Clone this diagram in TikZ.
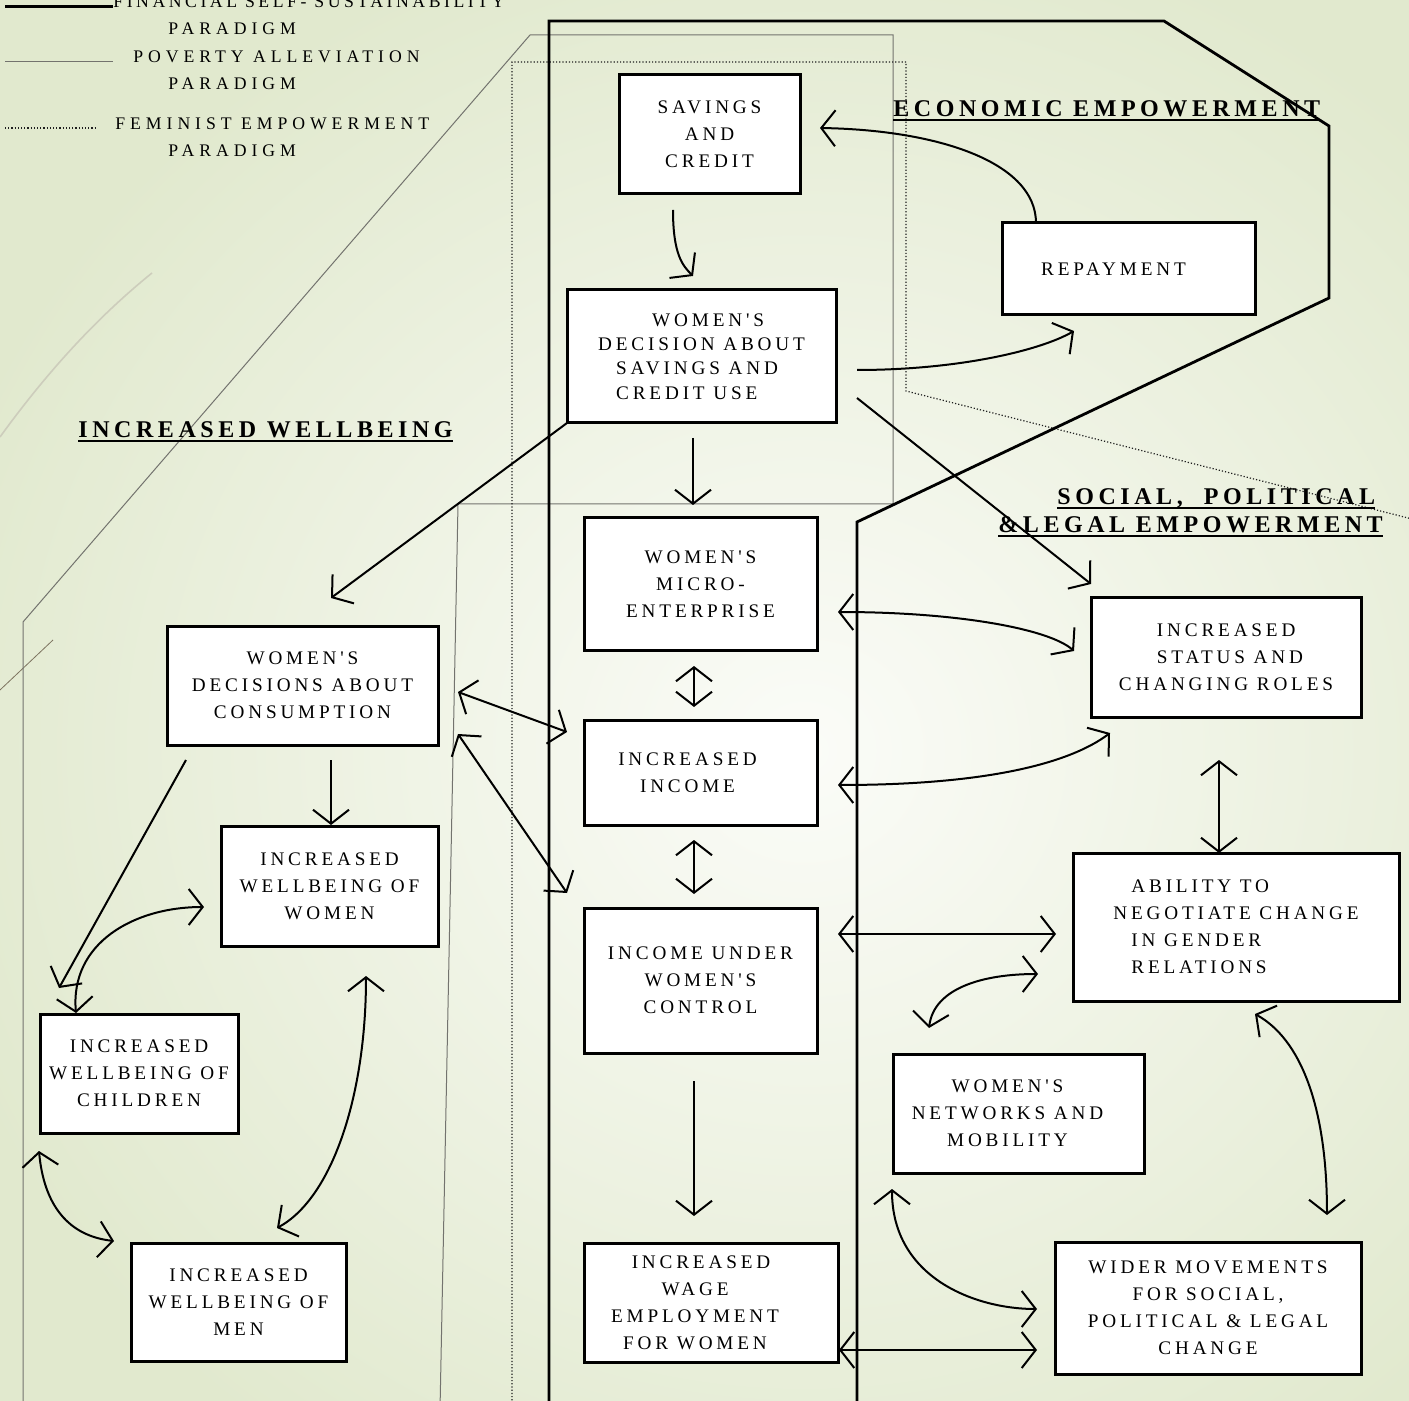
\documentclass[tikz,border=0pt]{standalone}
\usepackage{fontspec}
\setmainfont{Liberation Serif}[Ligatures=TeXOff, LetterSpace=20]
\newfontfamily\legfont{Liberation Serif}[Ligatures=TeXOff, LetterSpace=28]
\newfontfamily\legfontB{Liberation Serif}[Ligatures=TeXOff, LetterSpace=20]
\newfontfamily\hdrfont{Liberation Serif}[Ligatures=TeXOff, LetterSpace=19]
\usetikzlibrary{arrows.meta,calc}
\definecolor{bgout}{RGB}{225,233,206}
\definecolor{bgin}{RGB}{251,252,248}
\definecolor{thinA}{RGB}{115,115,110}
\definecolor{dotB}{RGB}{30,30,30}
\definecolor{decoA}{RGB}{205,205,188}
\definecolor{decoB}{RGB}{125,115,95}
\begin{document}
\begin{tikzpicture}[x=0.5pt,y=-0.5pt,
  box/.style={draw, line width=1.5pt, fill=white, inner sep=0pt, outer sep=0pt, align=center,
    font=\fontsize{9.6}{13.5}\selectfont},
  hdr/.style={inner sep=0pt, anchor=base west, font=\hdrfont\fontsize{12}{14}\selectfont\bfseries},
  leg/.style={inner sep=0pt, anchor=base west, font=\legfont\fontsize{8.85}{13.5}\selectfont},
  conn/.style={line width=1pt, >={Straight Barb[length=7pt,width=18pt]}},
  ul/.style={line width=1pt},
]
\path[use as bounding box] (0,0) rectangle (1409,1401);
\clip (0,0) rectangle (1409,1401);
\shade[inner color=bgin, outer color=bgout] (-100,-100) rectangle (1709,1601);

% decorative background strokes
\draw[decoA, line width=0.8pt] (0,437) .. controls (50,368) and (100,315) .. (152,273);
\draw[decoB, line width=0.4pt] (53,640) -- (0,690);

% paradigm regions
\draw[thinA, line width=0.5pt] (440,1410) -- (458,504) -- (893,504) -- (893,35) -- (530,35) -- (23,622) -- (23,1410);
\draw[dotB, line width=0.6pt, densely dotted] (512,1410) -- (512,62) -- (906,62) -- (906,391) -- (1420,521);
\draw[line width=1.4pt] (549,1410) -- (549,21) -- (1164,21) -- (1329,126) -- (1329,298) -- (857,522) -- (857,1410);

% legend
\node[leg, font=\legfontB\fontsize{8.85}{13.5}\selectfont] (l1) at (113,8) {FINANCIAL SELF- SUSTAINABILITY};
\draw[line width=1.5pt] (5,7) -- (113,7);
\node[leg] (l1b) at (168,35) {PARADIGM};
\draw[thinA, line width=0.5pt] (5,62) -- (113,62);
\node[leg] (l2) at (133,63) {POVERTY ALLEVIATION};
\node[leg] (l2b) at (168,90) {PARADIGM};
\draw[dotB, densely dotted, line width=0.6pt] (5,128) -- (95,128);
\node[leg] (l3) at (115,130) {FEMINIST EMPOWERMENT};
\node[leg] (l3b) at (168,157) {PARADIGM};

% headings
\node[hdr] (econ) at (893,117) {ECONOMIC EMPOWERMENT};
\draw[ul] ($(econ.base west)+(0,3)$) -- ($(econ.base east)+(0,3)$);
\node[hdr] (wellb) at (78,438) {INCREASED WELLBEING};
\draw[ul] ($(wellb.base west)+(0,3)$) -- ($(wellb.base east)+(0,3)$);
\node[hdr] (soc1) at (1057,505) {SOCIAL,~ POLITICAL};
\draw[ul] ($(soc1.base west)+(0,3)$) -- ($(soc1.base east)+(0,3)$);
\node[hdr] (soc2) at (998,533) {\&LEGAL EMPOWERMENT};
\draw[ul] ($(soc2.base west)+(0,3)$) -- ($(soc2.base east)+(0,3)$);

% boxes
\node[box, minimum width=90.5pt, minimum height=59.5pt] (sav) at (709.5,134.5) {SAVINGS\\AND\\CREDIT};
\node[box, minimum width=134.5pt, minimum height=66.5pt, align=left, font=\fontsize{9.6}{12.2}\selectfont] (dec) at (701.5,356.5)
  {\hspace*{27pt}WOMEN'S\\DECISION ABOUT\hspace*{14pt}\\\hspace*{9pt}SAVINGS AND\\\hspace*{9pt}CREDIT USE};
\node[box, minimum width=126.5pt, minimum height=46pt] (rep) at (1128.5,269) {REPAYMENT\hspace*{15pt}};
\node[box, minimum width=116.5pt, minimum height=66pt] (micro) at (700.5,584) {WOMEN'S\\MICRO-\\ENTERPRISE};
\node[box, minimum width=116.5pt, minimum height=52.5pt] (inc) at (700.5,772.5) {\hspace*{-13pt}INCREASED\\\hspace*{-13pt}INCOME};
\node[box, minimum width=116.5pt, minimum height=72.5pt] (ctrl) at (700.5,980.5) {INCOME UNDER\\WOMEN'S\\CONTROL};
\node[box, minimum width=127pt, minimum height=59.5pt] (wage) at (711,1302.5)
  {\hspace*{-10pt}INCREASED\\\hspace*{-16pt}WAGE\\\hspace*{-16pt}EMPLOYMENT\\\hspace*{-16pt}FOR WOMEN};
\node[box, minimum width=125.5pt, minimum height=59.5pt] (net) at (1018.5,1113.5) {\hspace*{-11pt}WOMEN'S\\\hspace*{-11pt}NETWORKS AND\\\hspace*{-11pt}MOBILITY};
\node[box, minimum width=153pt, minimum height=66pt] (wider) at (1208,1308) {WIDER MOVEMENTS\\FOR SOCIAL,\\POLITICAL \& LEGAL\\CHANGE};
\node[box, minimum width=135pt, minimum height=59.5pt, align=left] (status) at (1226,657.5)
  {\hspace*{19pt}INCREASED\\\hspace*{19pt}STATUS AND\\CHANGING ROLES};
\node[box, minimum width=163pt, minimum height=74pt, align=left] (abil) at (1236,927)
  {\hspace*{9pt}ABILITY TO\\NEGOTIATE CHANGE\\\hspace*{9pt}IN GENDER\\\hspace*{9pt}RELATIONS};
\node[box, minimum width=135.5pt, minimum height=59.5pt] (cons) at (302.5,685.5) {WOMEN'S\\DECISIONS ABOUT\\CONSUMPTION};
\node[box, minimum width=108.5pt, minimum height=60pt] (women) at (329.5,886) {INCREASED\\WELLBEING OF\\WOMEN};
\node[box, minimum width=99pt, minimum height=59.5pt] (child) at (139,1073.5) {INCREASED\\WELLBEING OF\\CHILDREN};
\node[box, minimum width=107.5pt, minimum height=59pt] (men) at (238.5,1302) {INCREASED\\WELLBEING OF\\MEN};

% connectors
\draw[conn,->] ($(sav.south)+(-36.5,16)$) .. controls +(0,45) and +(-10,-10) .. ($(dec.north)+(-8.5,-14)$);
\draw[conn,->] ($(rep.north west)+(34,0)$) .. controls +(0,-60) and +(120,2) .. ($(sav.east)+(20,-6.5)$);
\draw[conn,->] ($(dec.east)+(21,13.5)$) .. controls +(100,0) and +(-35,20) .. ($(rep.south west)+(72,16)$);
\draw[conn,->] ($(dec.east)+(21,41.5)$) -- ($(status.north west)+(0,-14)$);
\draw[conn,->] ($(dec.south)+(-8.5,15)$) -- ($(micro.north)+(-7.5,-13)$);
\draw[conn,->] (dec.south west) -- ($(cons.north)+(28.5,-28)$);
\draw[conn,<->] ($(micro.east)+(21,28)$) .. controls +(120,0) and +(-25,-22) .. ($(status.west)+(-17,-6.5)$);
\draw[conn,<->] ($(inc.east)+(21,12.5)$) .. controls +(150,0) and +(-40,30) .. ($(status.south west)+(19,16)$);
\draw[conn,<->] ($(micro.south)+(-6.5,16)$) -- ($(inc.north)+(-6.5,-13)$);
\draw[conn,<->] ($(inc.south)+(-6.5,15)$) -- ($(ctrl.north)+(-6.5,-14)$);
\draw[conn,<->] ($(cons.east)+(20,6.5)$) -- ($(inc.west)+(-17,-40.5)$);
\draw[conn,<->] ($(cons.east)+(20,48.5)$) -- ($(ctrl.west)+(-17,-87.5)$);
\draw[conn,->] ($(cons.south west)+(19,15)$) -- ($(child.north west)+(19,-26)$);
\draw[conn,->] ($(cons.south)+(28.5,15)$) -- ($(women.north)+(1.5,-1)$);
\draw[conn,<->] ($(child.north west)+(36,-1)$) .. controls +(-6,-70) and +(-70,0) .. ($(women.west)+(-17,21)$);
\draw[conn,<->] ($(child.south west)+(-1,18)$) .. controls +(5,55) and +(-45,-5) .. ($(men.west)+(-17,-61)$);
\draw[conn,<->] ($(women.south)+(36.5,30)$) .. controls +(0,120) and +(55,-30) .. ($(men.north)+(38.5,-15)$);
\draw[conn,<->] ($(ctrl.east)+(21,-46.5)$) -- ($(abil.west)+(-17,7)$);
\draw[conn,<->] ($(net.north west)+(36,-26)$) .. controls +(5,-40) and +(-55,0) .. ($(abil.west)+(-35,47)$);
\draw[conn,<->] ($(status.south)+(-7,43)$) -- ($(abil.north)+(-17,0)$);
\draw[conn,<->] ($(abil.south)+(19,13)$) .. controls +(45,25) and +(0,-110) .. ($(wider.north)+(119,-27)$);
\draw[conn,<->] ($(net.south west)+(-1,16)$) .. controls +(0,90) and +(-60,0) .. ($(wider.west)+(-18,1)$);
\draw[conn,<->] ($(wage.east)+(1,47.5)$) -- ($(wider.west)+(-18,42)$);
\draw[conn,->] ($(ctrl.south)+(-6.5,28)$) -- ($(wage.north)+(-17,-27)$);
\end{tikzpicture}
\end{document}
